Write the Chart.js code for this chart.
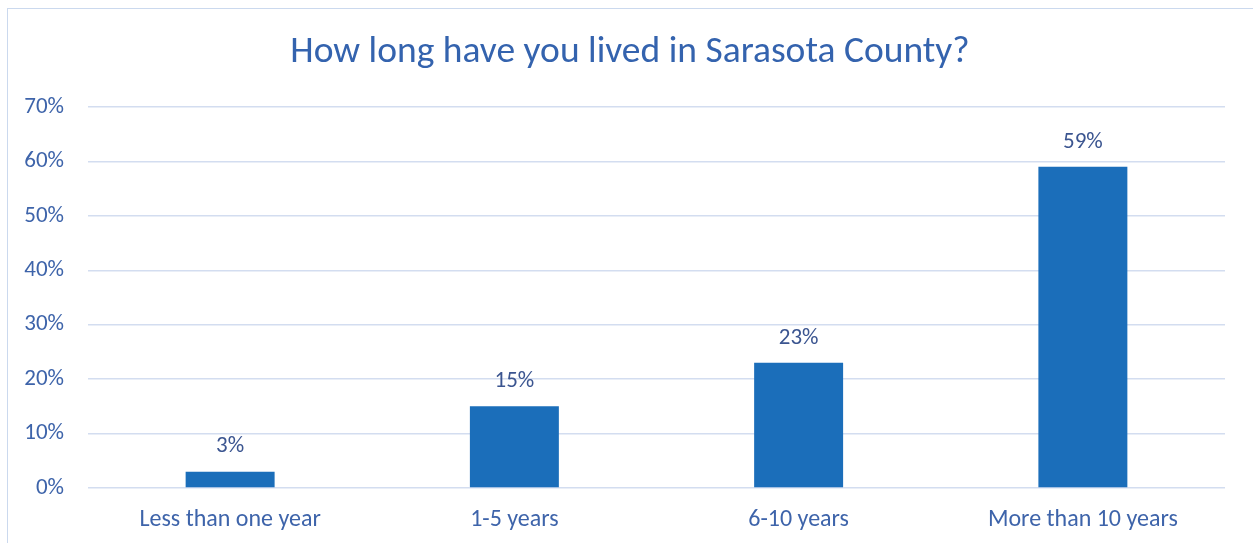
<!DOCTYPE html>
<html>
<head>
<meta charset="utf-8">
<script src="https://cdn.jsdelivr.net/npm/chart.js@4/dist/chart.umd.min.js"></script>
<style>
  html, body { margin: 0; padding: 0; background: #fff; overflow: hidden; }
  #frame { position: absolute; left: 7px; top: 8px; width: 1300px; height: 600px; border: 1px solid #CBD9EE; }
  #wrap { position: absolute; left: 0; top: 0; width: 1253px; height: 543px; }
</style>
</head>
<body>
<div id="frame"></div>
<div id="wrap"><canvas id="chart"></canvas></div>
<script>
// data
const categories = ['Less than one year', '1-5 years', '6-10 years', 'More than 10 years'];
const shares = [3, 15, 23, 59];
const tickValues = [0, 10, 20, 30, 40, 50, 60, 70];

const titleText = 'How long have you lived in Sarasota County?';
const fontFam = "Carlito, Calibri, Lato, sans-serif";

// title + labels above bars
const extraText = {
  id: 'extraText',
  afterDatasetsDraw(chart) {
    const ctx = chart.ctx;
    const meta = chart.getDatasetMeta(0);
    ctx.save();
    ctx.textAlign = 'center';
    ctx.textBaseline = 'middle';
    ctx.font = '37.5px ' + fontFam;
    ctx.fillStyle = '#3463AE';
    ctx.fillText(titleText, 630, 53);
    ctx.font = '23px ' + fontFam;
    ctx.fillStyle = '#3B5590';
    meta.data.forEach((bar, i) => {
      ctx.fillText(shares[i] + '%', bar.x, bar.y - 25);
    });
    ctx.restore();
  }
};

const ctx = document.getElementById('chart').getContext('2d');
new Chart(ctx, {
  type: 'bar',
  data: {
    labels: categories,
    datasets: [{ data: shares, backgroundColor: '#1B6EBA', categoryPercentage: 1, barPercentage: 0.313 }]
  },
  options: {
    responsive: true, maintainAspectRatio: false, animation: false,
    layout: { padding: { left: 0, right: 28, top: 107, bottom: 0 } },
    plugins: {
      legend: { display: false },
      tooltip: { enabled: false },
      title: { display: false }
    },
    scales: {
      x: {
        grid: { display: false, drawTicks: false },
        border: { display: false },
        ticks: { color: '#3E64AA', font: { family: fontFam, size: 24 }, padding: 18, maxRotation: 0 },
        afterFit(scale) { scale.height = 55; }
      },
      y: {
        min: 0, max: 70,
        grid: { color: '#D3DDF0', lineWidth: 1.5, drawTicks: false },
        border: { display: false },
        afterBuildTicks(scale) { scale.ticks = tickValues.map(v => ({ value: v })); },
        ticks: { color: '#3E64AA', font: { family: fontFam, size: 23 }, padding: 24, callback: v => v + '%' },
        afterFit(scale) { scale.width = 88; }
      }
    }
  },
  plugins: [extraText]
});
</script>
</body>
</html>
